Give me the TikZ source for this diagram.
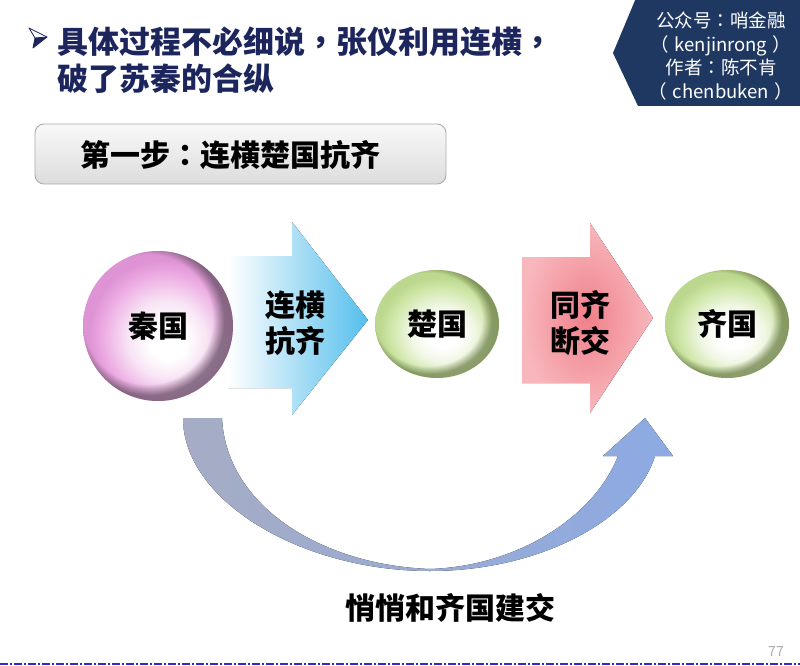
\documentclass[tikz,border=0pt]{standalone}
\usepackage{fontspec}
\setmainfont{Noto Sans CJK SC}
\newfontfamily\tcpunct{Noto Sans CJK TC}
\usetikzlibrary{fadings,shapes.geometric}

\definecolor{navy}{RGB}{28,38,92}
\definecolor{bannerblue}{RGB}{31,56,98}
\definecolor{pinkL}{RGB}{248,228,245}
\definecolor{pinkM}{RGB}{236,170,226}
\definecolor{pinkD}{RGB}{222,148,212}
\definecolor{pinkRim}{RGB}{95,78,95}
\definecolor{greenL}{RGB}{240,247,228}
\definecolor{greenM}{RGB}{205,229,165}
\definecolor{greenD}{RGB}{188,215,142}
\definecolor{greenRim}{RGB}{80,95,50}
\definecolor{arrowblue}{RGB}{85,190,236}
\definecolor{redIn}{RGB}{240,128,138}
\definecolor{redOut}{RGB}{248,183,189}
\definecolor{curveL}{RGB}{166,172,196}
\definecolor{curveM}{RGB}{178,189,218}
\definecolor{curveR}{RGB}{140,170,227}
\definecolor{dashblue}{RGB}{45,45,205}

\pgfdeclareradialshading{pinkballshade}{\pgfpoint{4bp}{-6bp}}{color(0bp)=(white); color(6bp)=(white); color(13bp)=(pinkL); color(21bp)=(pinkM); color(25bp)=(pinkD); color(50bp)=(pinkD)}
\pgfdeclareradialshading{greenballshade}{\pgfpoint{3bp}{-6bp}}{color(0bp)=(white); color(6bp)=(white); color(13bp)=(greenL); color(21bp)=(greenM); color(25bp)=(greenD); color(50bp)=(greenD)}
\pgfdeclareradialshading{rimmask}{\pgfpoint{-6bp}{4bp}}{color(0bp)=(black); color(21.5bp)=(black); color(25bp)=(white); color(50bp)=(white)}
\pgfdeclarefading{rimfade}{\pgfuseshading{rimmask}}

\newcommand{\pc}[1]{{\tcpunct #1}}

\tikzset{
  bigtext/.style={font=\fontsize{30}{36}\selectfont\bfseries, text=black, align=center, inner sep=0pt},
  titletext/.style={font=\fontsize{31}{37}\selectfont\bfseries, text=navy, align=left, inner sep=0pt},
  bannertext/.style={font=\fontsize{18.5}{23.8}\selectfont, text=white, align=center, inner sep=0pt},
  pinkball/.style={shading=pinkballshade},
  greenball/.style={shading=greenballshade},
  rimlayer/.style={fill=#1, path fading=rimfade, fill opacity=0.7},
  greenrim/.style={fill=greenRim, path fading=rimfade, fill opacity=0.55},
}

\begin{document}
\begin{tikzpicture}[x=1pt,y=-1pt]
\useasboundingbox (0,0) rectangle (800,666);
\fill[white] (0,0) rectangle (800,666);

% banner
\fill[bannerblue] (636,-2) -- (613,53) -- (638,106) -- (802,106) -- (802,-2) -- cycle;
\node[bannertext] (banner) at (721,56) {公众号\pc{：}哨金融\\\pc{（}\hspace{0.3em}kenjinrong\hspace{0.3em}\pc{）}\\作者\pc{：}陈不肯\\\pc{（}\hspace{0.3em}chenbuken\hspace{0.3em}\pc{）}};

% title bullet (3D arrowhead)
\coordinate (btop) at (29,28);
\coordinate (btip) at (47,37);
\coordinate (bnotch) at (35,38);
\coordinate (bbot) at (33,48);
\fill[navy] (bnotch) -- (btip) -- (bbot) -- cycle;
\draw[navy, line width=0.8pt, line join=round] (bnotch) -- (btop) -- (btip) -- (bbot) -- cycle;
\draw[navy, line width=0.8pt] (bnotch) -- (btip);
\node[titletext, anchor=west] (title) at (57,60.5) {具体过程不必细说\pc{，}张仪利用连横\pc{，}\\破了苏秦的合纵};

% step box
\node[draw=gray!65, line width=0.9pt, rounded corners=9pt, top color=gray!5, bottom color=gray!27,
      minimum width=411pt, minimum height=60pt, inner sep=0pt] (stepbox) at (240.5,154) {};
\node[bigtext] (steptext) at (230,155) {第一步\pc{：}连横楚国抗齐};

% blue arrow
\fill[left color=white, right color=arrowblue] (228,256) -- (292,256) -- (292,222) -- (368,320) -- (292,415) -- (292,388) -- (228,388) -- cycle;
\node[bigtext] (lianheng) at (295,323) {连横\\抗齐};

% red arrow
\fill[inner color=redIn, outer color=redOut] (522,257) -- (590,257) -- (590,223) -- (653,318) -- (590,413) -- (590,383) -- (522,383) -- cycle;
\node[bigtext] (tongqi) at (580,323) {同齐\\断交};

% balls
\path[pinkball] (158,326) circle[radius=75pt];
\fill[rimlayer=pinkRim] (158,326) circle[radius=75pt];
\node[bigtext] (qin) at (158,326) {秦国};

\path[greenball] (437,324) ellipse[x radius=62pt, y radius=54pt];
\fill[greenrim] (437,324) ellipse[x radius=62pt, y radius=54pt];
\node[bigtext] (chu) at (437,324) {楚国};

\path[greenball] (727,324) ellipse[x radius=62pt, y radius=54pt];
\fill[greenrim] (727,324) ellipse[x radius=62pt, y radius=54pt];
\node[bigtext] (qi) at (727,324) {齐国};

% curved arrow
\fill[left color=curveL, middle color=curveM, right color=curveR]
  (183,418) .. controls (183,500) and (300,571) .. (430,571)
  .. controls (540,571) and (635,520) .. (655,456)
  -- (673,456) -- (645,418) -- (603,456) -- (618,456)
  .. controls (595,515) and (520,566) .. (430,569)
  .. controls (320,565) and (226,505) .. (222,418) -- cycle;
\node[bigtext] (secret) at (450,608) {悄悄和齐国建交};

% footer
\node[font=\fontsize{14}{16}\selectfont, text=gray!65, inner sep=0pt] (pagenum) at (776,652) {77};
\draw[dashblue, line width=2pt, dash pattern=on 8pt off 2pt on 2pt off 2pt] (0,664) -- (800,664);
\end{tikzpicture}
\end{document}
